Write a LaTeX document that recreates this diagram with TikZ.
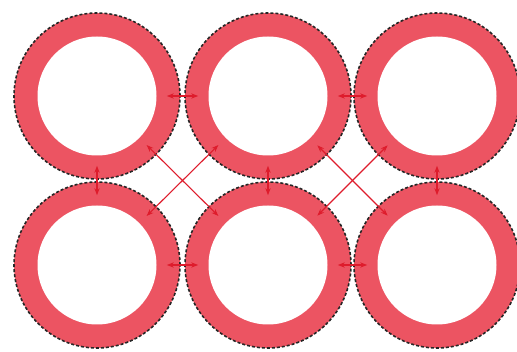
\documentclass[tikz,border=0pt]{standalone}
\usetikzlibrary{arrows.meta}
\definecolor{ringred}{RGB}{236,84,98}
\definecolor{linkred}{RGB}{222,28,44}
\tikzset{
  ring/.style={circle, inner sep=0, minimum size=166pt, fill=ringred,
    draw=black!85, line width=1.6pt, dash pattern=on 3pt off 2pt},
  link/.style={linkred, line width=1.1pt, {Stealth[length=7pt]}-{Stealth[length=7pt]},
    shorten <=-14pt, shorten >=-14pt}
}

\begin{document}
\begin{tikzpicture}[x=1pt, y=-1pt]
  \useasboundingbox (0,0) rectangle (517,352);

  % rings, top row 1-3, bottom row 4-6
  \node[ring] (r1) at (97, 96) {};
  \node[ring] (r2) at (268, 96) {};
  \node[ring] (r3) at (437, 96) {};
  \node[ring] (r4) at (97, 265) {};
  \node[ring] (r5) at (268, 265) {};
  \node[ring] (r6) at (437, 265) {};

  % links
  \draw[link] (r1) -- (r2);
  \draw[link] (r2) -- (r3);
  \draw[link] (r4) -- (r5);
  \draw[link] (r5) -- (r6);
  \foreach \a/\b in {r1/r4, r2/r5, r3/r6} \draw[link] (\a) -- (\b);
  \draw[link] (r1) -- (r5);
  \draw[link] (r2) -- (r4);
  \draw[link] (r2) -- (r6);
  \draw[link] (r3) -- (r5);

  % holes
  \foreach \r in {r1,r2,r3,r4,r5,r6} \fill[white] (\r.center) circle (59.5pt);
\end{tikzpicture}
\end{document}
